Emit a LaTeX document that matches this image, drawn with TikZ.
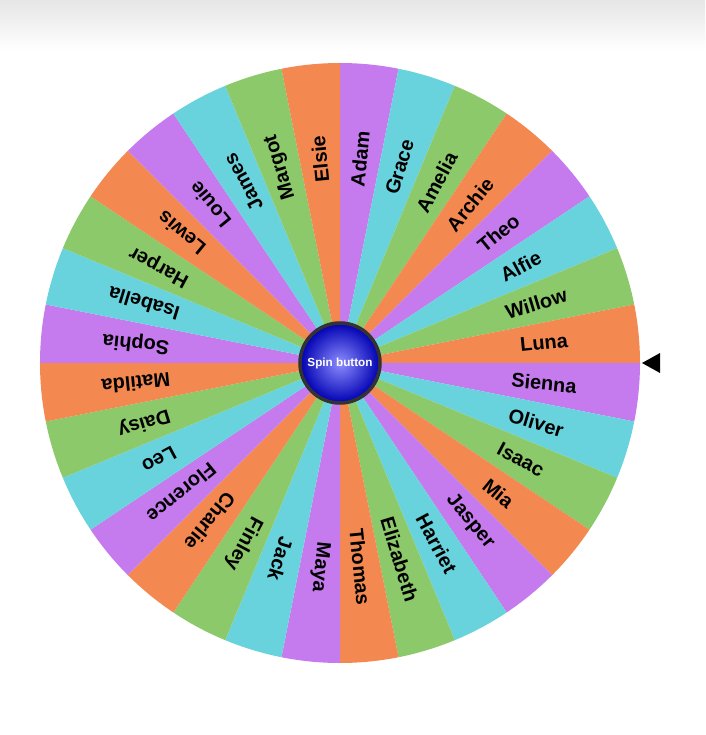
\documentclass[tikz,border=0pt]{standalone}
\usepackage{fontspec}
\setmainfont{Liberation Sans}
\usetikzlibrary{shadings}
\definecolor{wpurple}{HTML}{C57AEE}
\definecolor{wcyan}{HTML}{69D3DD}
\definecolor{wgreen}{HTML}{8CC96A}
\definecolor{worange}{HTML}{F38850}
\tikzset{
	name label/.style={font=\fontsize{17}{20}\selectfont\bfseries, text=black},
	spin/.style={circle, minimum size=80*0.03cm, draw=black!80, line width=3pt,
		inner color=blue!45!white, outer color=blue!70!black,
		text=white, font=\fontsize{10}{12}\selectfont\bfseries},
}
\begin{document}
\begin{tikzpicture}[x=0.03cm, y=0.03cm]
	\useasboundingbox (-340, -372) rectangle (365, 363);
	\shade[top color=black!10, bottom color=white] (-340, 313) rectangle (365, 363);
	% wheel sectors
	\foreach \name [count=\i from 0] in {Adam,Grace,Amelia,Archie,Theo,Alfie,Willow,Luna,
		Sienna,Oliver,Isaac,Mia,Jasper,Harriet,Elizabeth,Thomas,Maya,Jack,Finley,Charlie,
		Florence,Leo,Daisy,Matilda,Sophia,Isabella,Harper,Lewis,Louie,James,Margot,Elsie} {
		\pgfmathtruncatemacro{\k}{mod(\i,4)}
		\ifcase\k \def\col{wpurple}\or \def\col{wcyan}\or \def\col{wgreen}\or \def\col{worange}\fi
		\pgfmathsetmacro{\a}{90 - \i*11.25}
		\fill[\col] (0, 0) -- (\a:300) arc[start angle=\a, end angle=\a-11.25, radius=300] -- cycle;
		\node[name label, rotate=\a-5.625] (n\i) at (\a-5.625:205) {\name};
	}
	\node[spin] (button) at (0, 0) {Spin button};
	% pointer
	\fill[black] (302, 0) -- (320, 10) -- (320, -10) -- cycle;
\end{tikzpicture}
\end{document}
